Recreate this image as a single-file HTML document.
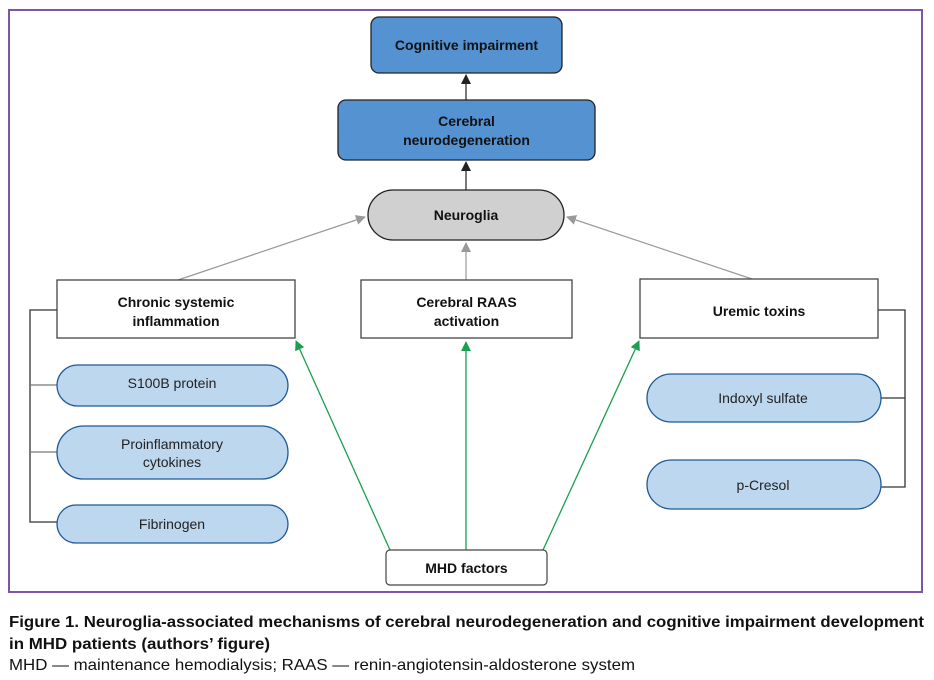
<!DOCTYPE html>
<html><head><meta charset="utf-8"><style>
html,body{margin:0;padding:0;background:#fff;}
svg{display:block;font-family:"Liberation Sans",Arial,sans-serif;}
</style></head><body>
<svg width="934" height="680" viewBox="0 0 934 680" xmlns="http://www.w3.org/2000/svg">
<defs>
<marker id="ab" markerWidth="10" markerHeight="10" refX="9" refY="5" orient="auto" markerUnits="userSpaceOnUse"><path d="M0,0 L10,5 L0,10 z" fill="#222"/></marker>
<marker id="ag" markerWidth="10" markerHeight="10" refX="9" refY="5" orient="auto" markerUnits="userSpaceOnUse"><path d="M0,0 L10,5 L0,10 z" fill="#999"/></marker>
<marker id="agr" markerWidth="10" markerHeight="10" refX="9" refY="5" orient="auto" markerUnits="userSpaceOnUse"><path d="M0,0 L10,5 L0,10 z" fill="#1aa050"/></marker>
</defs>
<rect x="9" y="10" width="913" height="582" fill="#fff" stroke="#7a55a8" stroke-width="2"/>
<rect x="371" y="17" width="191" height="56" rx="8" fill="#5592d2" stroke="#222" stroke-width="1.3"/>
<text x="466.5" y="50" text-anchor="middle" font-size="14" font-weight="bold" fill="#111">Cognitive impairment</text>
<rect x="338" y="100" width="257" height="60" rx="8" fill="#5592d2" stroke="#222" stroke-width="1.3"/>
<text x="466.5" y="126" text-anchor="middle" font-size="14" font-weight="bold" fill="#111">Cerebral</text>
<text x="466.5" y="145" text-anchor="middle" font-size="14" font-weight="bold" fill="#111">neurodegeneration</text>
<rect x="368" y="190" width="196" height="50" rx="25" fill="#d0d0d0" stroke="#222" stroke-width="1.3"/>
<text x="466" y="220" text-anchor="middle" font-size="14" font-weight="bold" fill="#111">Neuroglia</text>
<line x1="466" y1="100" x2="466" y2="75" stroke="#222" stroke-width="1.2" marker-end="url(#ab)"/>
<line x1="466" y1="190" x2="466" y2="162" stroke="#222" stroke-width="1.2" marker-end="url(#ab)"/>
<line x1="178" y1="280" x2="365" y2="217" stroke="#999" stroke-width="1.2" marker-end="url(#ag)"/>
<line x1="466" y1="280" x2="466" y2="243" stroke="#999" stroke-width="1.2" marker-end="url(#ag)"/>
<line x1="755" y1="280" x2="567" y2="217" stroke="#999" stroke-width="1.2" marker-end="url(#ag)"/>
<rect x="57" y="280" width="238" height="58" fill="#fff" stroke="#444" stroke-width="1.3"/>
<text x="176" y="307" text-anchor="middle" font-size="14" font-weight="bold" fill="#111">Chronic systemic</text>
<text x="176" y="326" text-anchor="middle" font-size="14" font-weight="bold" fill="#111">inflammation</text>
<rect x="361" y="280" width="211" height="58" fill="#fff" stroke="#444" stroke-width="1.3"/>
<text x="466.5" y="307" text-anchor="middle" font-size="14" font-weight="bold" fill="#111">Cerebral RAAS</text>
<text x="466.5" y="326" text-anchor="middle" font-size="14" font-weight="bold" fill="#111">activation</text>
<rect x="640" y="279" width="238" height="59" fill="#fff" stroke="#444" stroke-width="1.3"/>
<text x="759" y="316" text-anchor="middle" font-size="14" font-weight="bold" fill="#111">Uremic toxins</text>
<polyline points="57,310 30,310 30,522 57,522" fill="none" stroke="#333" stroke-width="1.3"/>
<line x1="30" y1="385" x2="57" y2="385" stroke="#777" stroke-width="1.3"/>
<line x1="30" y1="452" x2="57" y2="452" stroke="#777" stroke-width="1.3"/>
<polyline points="878,310 905,310 905,487 881,487" fill="none" stroke="#333" stroke-width="1.3"/>
<line x1="881" y1="398" x2="905" y2="398" stroke="#333" stroke-width="1.3"/>
<g fill="#bdd7ee" stroke="#1f5a96" stroke-width="1.3">
<rect x="57" y="365" width="231" height="41" rx="20.5"/>
<rect x="57" y="426" width="231" height="53" rx="26.5"/>
<rect x="57" y="505" width="231" height="38" rx="19"/>
<rect x="647" y="374" width="234" height="48" rx="24"/>
<rect x="647" y="460" width="234" height="49" rx="24.5"/>
</g>
<g font-size="14" fill="#222" text-anchor="middle">
<text x="172" y="388">S100B protein</text>
<text x="172" y="449">Proinflammatory</text>
<text x="172" y="467">cytokines</text>
<text x="172" y="529">Fibrinogen</text>
<text x="763" y="403">Indoxyl sulfate</text>
<text x="763" y="490">p-Cresol</text>
</g>
<line x1="390" y1="550" x2="296" y2="341" stroke="#1aa050" stroke-width="1.3" marker-end="url(#agr)"/>
<line x1="466" y1="550" x2="466" y2="342" stroke="#1aa050" stroke-width="1.3" marker-end="url(#agr)"/>
<line x1="543" y1="550" x2="639" y2="341" stroke="#1aa050" stroke-width="1.3" marker-end="url(#agr)"/>
<rect x="386" y="550" width="161" height="35" rx="4" fill="#fff" stroke="#444" stroke-width="1.2"/>
<text x="466.5" y="573" text-anchor="middle" font-size="14" font-weight="bold" fill="#111">MHD factors</text>
<text x="9" y="627" font-size="16" font-weight="bold" fill="#111" textLength="915" lengthAdjust="spacingAndGlyphs">Figure 1. Neuroglia-associated mechanisms of cerebral neurodegeneration and cognitive impairment development</text>
<text x="9" y="649" font-size="16" font-weight="bold" fill="#111" textLength="261" lengthAdjust="spacingAndGlyphs">in MHD patients (authors’ figure)</text>
<text x="9" y="670" font-size="16" fill="#111" textLength="626" lengthAdjust="spacingAndGlyphs">MHD — maintenance hemodialysis; RAAS — renin-angiotensin-aldosterone system</text>
</svg>
</body></html>
